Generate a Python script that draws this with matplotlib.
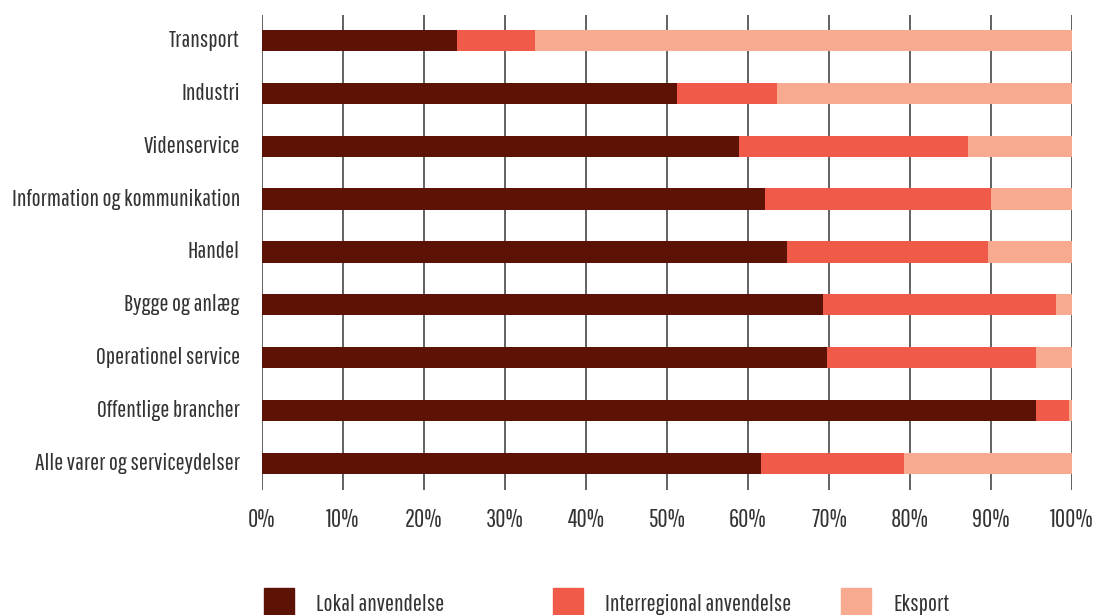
import matplotlib.pyplot as plt
import numpy as np
from matplotlib.patches import Patch

categories = ['Transport', 'Industri', 'Videnservice', 'Information og kommunikation',
              'Handel', 'Bygge og anlæg', 'Operationel service', 'Offentlige brancher',
              'Alle varer og serviceydelser']
lokal = [24.1, 51.2, 58.9, 62.1, 64.8, 69.3, 69.7, 95.6, 61.6]
interregional = [9.6, 12.4, 28.3, 27.9, 24.8, 28.7, 25.9, 4.0, 17.6]
eksport = [66.3, 36.4, 12.8, 10.0, 10.4, 2.0, 4.4, 0.4, 20.8]
series_names = ['Lokal anvendelse', 'Interregional anvendelse', 'Eksport']
ticks = np.arange(0, 101, 10)

colors = ['#5c1306', '#f05a48', '#f7aa8f']
text_col = '#333333'
plt.rcParams['font.family'] = ['Pathway Gothic One', 'Roboto Condensed', 'DejaVu Sans']

fig = plt.figure(figsize=(11, 6.15), dpi=100)
ax = fig.add_axes([262 / 1100, 1 - 490 / 615, 810 / 1100, 475 / 615])

y = np.arange(len(categories))
left = np.zeros(len(categories))
for vals, c in zip([lokal, interregional, eksport], colors):
    ax.barh(y, vals, left=left, height=0.4, color=c, zorder=3)
    left += np.array(vals)

ax.set_xlim(0, 100)
ax.set_ylim(len(categories) - 0.5, -0.48)
ax.set_yticks(y)
ax.set_yticklabels(categories, va='center')
ax.set_xticks(ticks)
ax.set_xticklabels([f'{t}%' for t in ticks])
ax.tick_params(axis='both', length=0, colors=text_col, labelsize=17.3)
ax.tick_params(axis='x', pad=13, labelsize=18)
ax.tick_params(axis='y', pad=16)
ax.xaxis.grid(True, color='#555555', linewidth=1.3, zorder=0)
for s in ax.spines.values():
    s.set_visible(False)

# three separate legend entries to get even spacing
xs = [254, 543, 831]
for name, c, x0 in zip(series_names, colors, xs):
    lg = fig.legend(handles=[Patch(color=c)], labels=[name], loc='lower left',
                    bbox_to_anchor=(x0 / 1100, -0.022), frameon=False,
                    handlelength=1.25, handleheight=1.6, handletextpad=0.95,
                    borderaxespad=0, fontsize=17.3, labelcolor=text_col)

fig.savefig('out.png', dpi=100)
